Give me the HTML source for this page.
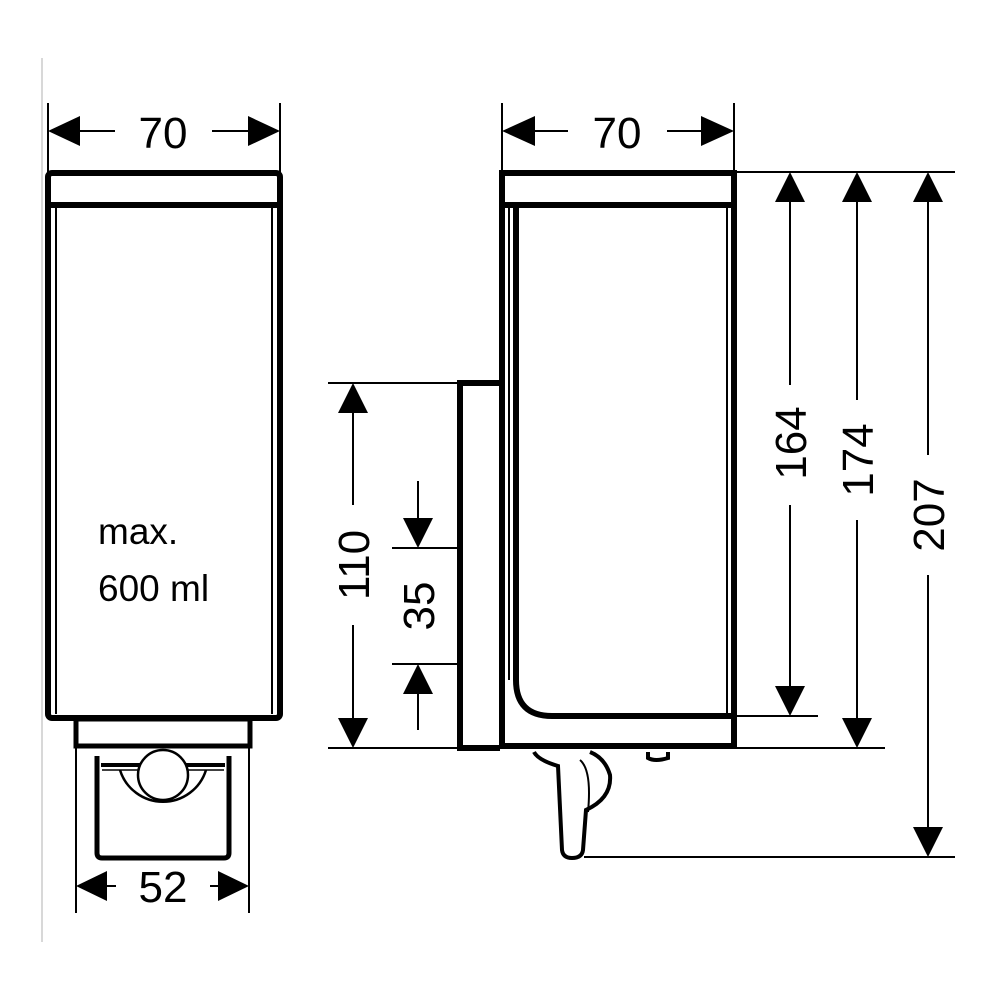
<!DOCTYPE html>
<html><head><style>body{margin:0;background:#fff}svg{display:block}</style></head>
<body>
<svg width="1000" height="1000" viewBox="0 0 1000 1000" xmlns="http://www.w3.org/2000/svg" font-family="Liberation Sans, sans-serif">
<line x1="42" y1="58" x2="42" y2="942" stroke="#ccc" stroke-width="1.5"/>
<g stroke="#000" fill="none">
<rect x="48" y="173" width="232" height="545" rx="4" stroke-width="6"/>
<line x1="48" y1="205" x2="280" y2="205" stroke-width="6"/>
<line x1="56" y1="205" x2="56" y2="714" stroke-width="2"/>
<line x1="272" y1="205" x2="272" y2="714" stroke-width="2"/>
<rect x="76" y="719" width="174" height="27" stroke-width="5"/>
<path d="M97 756 L97 853 Q97 858 102 858 L224 858 Q229 858 229 853 L229 756" stroke-width="5"/>
<line x1="101" y1="765" x2="225" y2="765" stroke-width="4"/>
<line x1="102" y1="770" x2="224" y2="770" stroke-width="1.5"/>
<path d="M120 770 A45 45 0 0 0 206 770" stroke-width="2.5"/>
<circle cx="163" cy="775" r="25" stroke-width="2.5" fill="#fff"/>
<line x1="48" y1="103" x2="48" y2="173" stroke-width="2"/>
<line x1="280" y1="103" x2="280" y2="173" stroke-width="2"/>
<line x1="80" y1="131" x2="115" y2="131" stroke-width="2"/>
<line x1="212" y1="131" x2="248" y2="131" stroke-width="2"/>
<line x1="76" y1="746" x2="76" y2="913" stroke-width="2"/>
<line x1="249" y1="746" x2="249" y2="913" stroke-width="2"/>
<line x1="105" y1="886" x2="116" y2="886" stroke-width="2"/>
<line x1="210" y1="886" x2="220" y2="886" stroke-width="2"/>
<path d="M502 173 L734 173 L734 746 L502 746 Z" stroke-width="6"/>
<line x1="502" y1="205" x2="734" y2="205" stroke-width="6"/>
<line x1="509" y1="205" x2="509" y2="680" stroke-width="2"/>
<line x1="727" y1="205" x2="727" y2="715" stroke-width="2"/>
<path d="M516 205 L516 680 Q516 716 552 716 L734 716" stroke-width="6"/>
<path d="M500 383 L460 383 L460 748 L500 748" stroke-width="6"/>
<path d="M534 752 Q538 760 558 766 L562 850 Q563 858 572 858 Q582 858 583 850 L586 810 Q612 798 610 775 Q605 758 590 752" stroke-width="4" fill="#fff"/>
<path d="M580 760 Q592 770 588 812" stroke-width="2"/>
<path d="M648 752 L648 758 Q655 762 668 758 L668 752" stroke-width="4"/>
<line x1="502" y1="103" x2="502" y2="173" stroke-width="2"/>
<line x1="734" y1="103" x2="734" y2="173" stroke-width="2"/>
<line x1="535" y1="131" x2="568" y2="131" stroke-width="2"/>
<line x1="667" y1="131" x2="702" y2="131" stroke-width="2"/>
<line x1="734" y1="172" x2="955" y2="172" stroke-width="2"/>
<line x1="734" y1="716" x2="818" y2="716" stroke-width="2"/>
<line x1="734" y1="748" x2="885" y2="748" stroke-width="2"/>
<line x1="584" y1="857" x2="955" y2="857" stroke-width="2"/>
<line x1="790" y1="200" x2="790" y2="385" stroke-width="2"/>
<line x1="790" y1="505" x2="790" y2="690" stroke-width="2"/>
<line x1="857" y1="200" x2="857" y2="400" stroke-width="2"/>
<line x1="857" y1="520" x2="857" y2="720" stroke-width="2"/>
<line x1="928" y1="200" x2="928" y2="455" stroke-width="2"/>
<line x1="928" y1="575" x2="928" y2="830" stroke-width="2"/>
<line x1="328" y1="383" x2="460" y2="383" stroke-width="2"/>
<line x1="328" y1="748" x2="460" y2="748" stroke-width="2"/>
<line x1="392" y1="548" x2="460" y2="548" stroke-width="2"/>
<line x1="392" y1="664" x2="460" y2="664" stroke-width="2"/>
<line x1="353" y1="410" x2="353" y2="505" stroke-width="2"/>
<line x1="353" y1="625" x2="353" y2="722" stroke-width="2"/>
<line x1="418" y1="481" x2="418" y2="520" stroke-width="2"/>
<line x1="418" y1="692" x2="418" y2="730" stroke-width="2"/>
</g>
<g fill="#000">
<polygon points="48,131 80,116 80,146"/><polygon points="280,131 248,116 248,146"/>
<polygon points="76,886 107,871 107,901"/><polygon points="249,886 218,871 218,901"/>
<polygon points="502,131 535,116 535,146"/><polygon points="734,131 701,116 701,146"/>
<polygon points="790,172 775,202 805,202"/><polygon points="790,716 775,686 805,686"/>
<polygon points="857,172 842,202 872,202"/><polygon points="857,748 842,718 872,718"/>
<polygon points="928,172 913,202 943,202"/><polygon points="928,857 913,827 943,827"/>
<polygon points="353,383 338,413 368,413"/><polygon points="353,748 338,718 368,718"/>
<polygon points="418,548 403,518 433,518"/><polygon points="418,664 403,694 433,694"/>
</g>
<g font-size="44" fill="#000" text-anchor="middle">
<text x="163" y="148">70</text>
<text x="617" y="148">70</text>
<text x="163" y="902">52</text>
<text transform="translate(806,443) rotate(-90)">164</text>
<text transform="translate(873,460) rotate(-90)">174</text>
<text transform="translate(944,515) rotate(-90)">207</text>
<text transform="translate(369,565) rotate(-90)">110</text>
<text transform="translate(434,606) rotate(-90)">35</text>
</g>
<g font-size="37" fill="#000">
<text x="98" y="544">max.</text>
<text x="98" y="601">600 ml</text>
</g>
</svg>
</body></html>
